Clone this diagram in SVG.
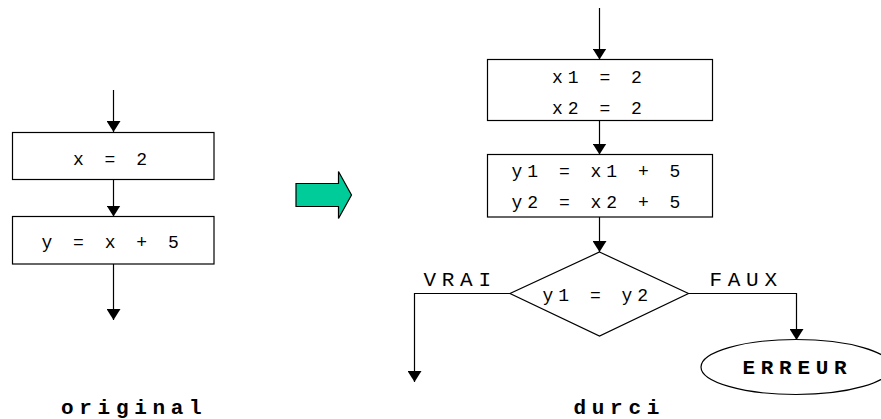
<svg xmlns="http://www.w3.org/2000/svg" width="881" height="419" viewBox="0 0 881 419">
  <style>
    .shape { fill: #ffffff; stroke: #000000; stroke-width: 1.2; }
    .wire { fill: none; stroke: #000000; stroke-width: 1.2; }
    .code { font-family: "Liberation Mono", "Courier New", monospace; font-size: 18px; letter-spacing: 5px; fill: #000000; }
    .label { font-family: "Liberation Mono", "Courier New", monospace; font-size: 21px; letter-spacing: 5.7px; fill: #000000; }
    .bold { font-weight: bold; }
  </style>
  <defs>
    <marker id="head" markerUnits="userSpaceOnUse" markerWidth="11" markerHeight="14" viewBox="0 0 11 14" refX="11" refY="7" orient="auto">
      <path d="M0,0 L11,7 L0,14 z" fill="#000000"/>
    </marker>
  </defs>

  <!-- connectors -->
  <g id="connectors">
    <line class="wire" x1="113.5" y1="90" x2="113.5" y2="132" marker-end="url(#head)"/>
    <line class="wire" x1="113.5" y1="179.5" x2="113.5" y2="216.5" marker-end="url(#head)"/>
    <line class="wire" x1="113.5" y1="264" x2="113.5" y2="320" marker-end="url(#head)"/>
    <line class="wire" x1="599.5" y1="8" x2="599.5" y2="59.5" marker-end="url(#head)"/>
    <line class="wire" x1="599.5" y1="121" x2="599.5" y2="154.5" marker-end="url(#head)"/>
    <line class="wire" x1="599.5" y1="217" x2="599.5" y2="252" marker-end="url(#head)"/>
    <path class="wire" d="M510,293.5 H414.5 V382" marker-end="url(#head)"/>
    <path class="wire" d="M688.5,293.5 H796.5 V340" marker-end="url(#head)"/>
  </g>

  <!-- original program -->
  <g id="orig-assign-x">
    <rect class="shape" x="12.5" y="132.5" width="201.5" height="47"/>
    <text class="code" x="73" y="164.5">x = 2</text>
  </g>
  <g id="orig-assign-y">
    <rect class="shape" x="12.5" y="216.5" width="201.5" height="47.5"/>
    <text class="code" x="41.5" y="247.5">y = x + 5</text>
  </g>
  <g id="orig-caption">
    <text class="label bold" x="61" y="414.3">original</text>
  </g>

  <!-- transformation arrow -->
  <g id="transform-arrow">
    <path d="M296,183.5 H338.5 V171.5 L351.5,195 L338.5,218.5 V206.5 H296 z" fill="#00cc99" stroke="#000000" stroke-width="1.2"/>
  </g>

  <!-- hardened program -->
  <g id="dup-assign-x">
    <rect class="shape" x="487.5" y="59.5" width="225" height="61"/>
    <text class="code" x="552" y="83.3">x1 = 2</text>
    <text class="code" x="552" y="114">x2 = 2</text>
  </g>
  <g id="dup-assign-y">
    <rect class="shape" x="487.5" y="154.5" width="225" height="62.5"/>
    <text class="code" x="511.5" y="176.7">y1 = x1 + 5</text>
    <text class="code" x="511.5" y="208">y2 = x2 + 5</text>
  </g>
  <g id="check">
    <polygon class="shape" points="599.5,252 688.5,293.5 599.5,336 510,293.5"/>
    <text class="code" x="542.5" y="300.7">y1 = y2</text>
  </g>
  <g id="branch-labels">
    <text class="label" x="423.5" y="285.7">VRAI</text>
    <text class="label" x="709.5" y="285.7">FAUX</text>
  </g>
  <g id="error">
    <ellipse class="shape" cx="796" cy="367" rx="95" ry="27.5"/>
    <text class="label bold" x="742.5" y="374.3">ERREUR</text>
  </g>
  <g id="durci-caption">
    <text class="label bold" x="573.5" y="414.3">durci</text>
  </g>
</svg>
